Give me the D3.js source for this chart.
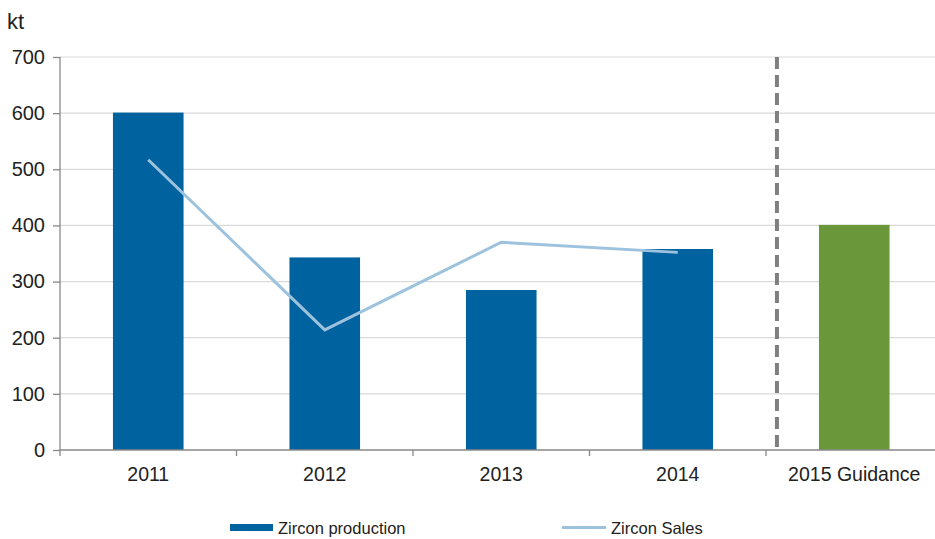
<!DOCTYPE html>
<html>
<head>
<meta charset="utf-8">
<script src="https://cdn.jsdelivr.net/npm/d3@7"></script>
<style>
  body { margin: 0; background: #fff; }
  text { font-family: "Liberation Sans", Arial, sans-serif; fill: #222; }
</style>
</head>
<body>
<svg></svg>
<script>
let categories = ["2011", "2012", "2013", "2014", "2015 Guidance"]
let production = [601, 343, 285, 358, 401]
let salesYears = ["2011", "2012", "2013", "2014"]
let sales = [517, 214, 370, 352]
let yTicks = [0, 100, 200, 300, 400, 500, 600, 700]

let width = 935
let height = 539
let left = 60
let bandW = 176.5

let svg = d3.select('svg')
  .attr('width', width)
  .attr('height', height)

let xScale = d3.scaleBand()
  .domain(categories)
  .range([left, left + bandW * categories.length])
  .paddingInner(0.6)
  .paddingOuter(0.3)

let yScale = d3.scaleLinear()
  .domain([0, 700])
  .range([450, 57])

// gridlines
svg.append('g')
  .selectAll('line')
  .data(yTicks.filter(d => d > 0))
  .enter()
  .append('line')
  .attr('x1', left)
  .attr('x2', width)
  .attr('y1', d => yScale(d))
  .attr('y2', d => yScale(d))
  .attr('stroke', '#d9d9d9')
  .attr('stroke-width', 1.2)

// bars
svg.append('g')
  .selectAll('rect')
  .data(production)
  .enter()
  .append('rect')
  .attr('x', (d, i) => xScale(categories[i]))
  .attr('width', xScale.bandwidth())
  .attr('y', d => yScale(d))
  .attr('height', d => yScale(0) - yScale(d))
  .attr('fill', (d, i) => i === 4 ? '#6a973a' : '#00629e')

// dashed separator
let sepX = xScale('2015 Guidance') - 42
svg.append('line')
  .attr('x1', sepX)
  .attr('x2', sepX)
  .attr('y1', yScale(700))
  .attr('y2', yScale(0))
  .attr('stroke', '#7f7f7f')
  .attr('stroke-width', 4)
  .attr('stroke-dasharray', '12,6')

// sales line
let line = d3.line()
  .x((d, i) => xScale(salesYears[i]) + xScale.bandwidth() / 2)
  .y(d => yScale(d))

svg.append('path')
  .datum(sales)
  .attr('d', line)
  .attr('fill', 'none')
  .attr('stroke', '#9dc2de')
  .attr('stroke-width', 3)

// axes
let xAxis = d3.axisBottom(xScale).tickSize(0).tickPadding(17)
let yAxis = d3.axisLeft(yScale).tickValues(yTicks).tickSize(7).tickPadding(8)

let gx = svg.append('g')
  .attr('transform', `translate(0, ${yScale(0)})`)
  .call(xAxis)
gx.select('.domain').attr('stroke', '#888').attr('stroke-width', 1.3)
  .attr('d', `M${left},0H${width}`)
gx.selectAll('text').attr('font-size', 19.5).style('fill', '#222')

// category boundary ticks
svg.append('g')
  .selectAll('line')
  .data(categories)
  .enter()
  .append('line')
  .attr('x1', d => xScale(d) - xScale.step() * 0.3)
  .attr('x2', d => xScale(d) - xScale.step() * 0.3)
  .attr('y1', yScale(0))
  .attr('y2', yScale(0) + 6)
  .attr('stroke', '#888')
  .attr('stroke-width', 1.3)

let gy = svg.append('g')
  .attr('transform', `translate(${left}, 0)`)
  .call(yAxis)
gy.select('.domain').attr('stroke', '#888').attr('stroke-width', 1.3)
  .attr('d', `M0,${yScale(700)}V${yScale(0)}`)
gy.selectAll('.tick line').attr('stroke', '#888').attr('stroke-width', 1.3)
gy.selectAll('text').attr('font-size', 20).style('fill', '#222')

// unit label
svg.append('text')
  .attr('x', 7)
  .attr('y', 29)
  .attr('font-size', 22)
  .text('kt')

// legend
let lg = svg.append('g')
lg.append('rect')
  .attr('x', 230).attr('y', 524)
  .attr('width', 43).attr('height', 7)
  .attr('fill', '#00629e')
lg.append('text')
  .attr('x', 278).attr('y', 533.5)
  .attr('font-size', 16.5)
  .text('Zircon production')
lg.append('line')
  .attr('x1', 562).attr('x2', 606)
  .attr('y1', 527.5).attr('y2', 527.5)
  .attr('stroke', '#9dc2de').attr('stroke-width', 3)
lg.append('text')
  .attr('x', 611).attr('y', 533.5)
  .attr('font-size', 16.5)
  .text('Zircon Sales')
</script>
</body>
</html>
